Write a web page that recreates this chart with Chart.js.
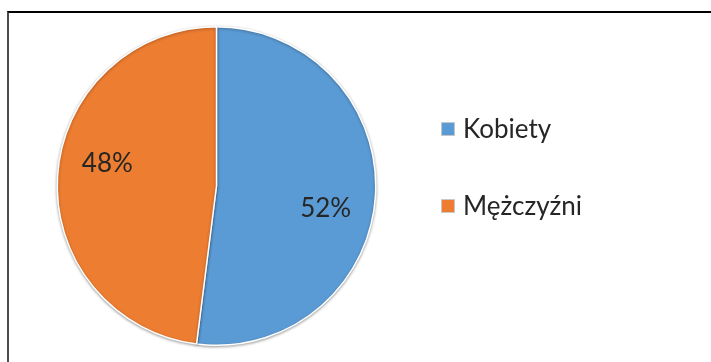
<!DOCTYPE html>
<html>
<head>
<meta charset="utf-8">
<script src="https://cdn.jsdelivr.net/npm/chart.js@4"></script>
<style>
  html, body { margin: 0; padding: 0; background: #fff; }
  body { width: 711px; height: 362px; position: relative; overflow: hidden; }
  #frame {
    position: absolute; left: 7px; top: 11px; width: 720px; height: 400px;
    border-top: 2px solid #000; border-left: 2px solid #4d4d4d;
  }
  #wrap { position: absolute; left: 0; top: 0; width: 711px; height: 362px; }
</style>
</head>
<body>
<div id="frame"></div>
<div id="wrap"><canvas id="chart"></canvas></div>
<script>
const labels = ['Kobiety', 'Mężczyźni']
const values = [52, 48]
const colors = ['#5B9BD5', '#ED7D31']

const FONT = 'Lato, "Open Sans", sans-serif'

// procenty na wycinkach, lekko przesunięte względem środka kąta
const sliceLabels = {
    id: 'sliceLabels',
    afterDatasetsDraw (chart) {
        const { ctx } = chart
        const meta = chart.getDatasetMeta(0)
        const total = values.reduce((a, b) => a + b, 0)
        ctx.save()
        ctx.font = '26px ' + FONT
        ctx.fillStyle = '#262626'
        ctx.textAlign = 'center'
        ctx.textBaseline = 'middle'
        meta.data.forEach((arc, i) => {
            const { x, y, startAngle, endAngle, outerRadius } = arc.getProps(['x', 'y', 'startAngle', 'endAngle', 'outerRadius'])
            const mid = (startAngle + endAngle) / 2 + 0.14
            const r = outerRadius * 0.7
            const pct = Math.round(values[i] / total * 100) + '%'
            ctx.fillText(pct, x + Math.cos(mid) * r, y + Math.sin(mid) * r)
        })
        ctx.restore()
    }
}

// legenda po prawej stronie
const sideLegend = {
    id: 'sideLegend',
    afterDraw (chart) {
        const { ctx } = chart
        const x0 = 441, y0 = 129, step = 77, box = 14
        ctx.save()
        ctx.font = '26px ' + FONT
        ctx.textBaseline = 'middle'
        labels.forEach((name, i) => {
            const y = y0 + i * step
            ctx.fillStyle = colors[i]
            ctx.fillRect(x0, y - box / 2, box, box)
            ctx.strokeStyle = '#c8c8c8'
            ctx.lineWidth = 1
            ctx.strokeRect(x0 + 0.5, y - box / 2 + 0.5, box - 1, box - 1)
            ctx.fillStyle = '#262626'
            ctx.fillText(name, x0 + 22, y + 1)
        })
        ctx.restore()
    }
}

// delikatny cień pod kołem
const pieShadow = {
    id: 'pieShadow',
    beforeDatasetsDraw (chart) {
        const { ctx } = chart
        ctx.save()
        ctx.shadowColor = 'rgba(0,0,0,0.35)'
        ctx.shadowBlur = 3
        ctx.shadowOffsetY = 1
    },
    afterDatasetsDraw (chart) {
        chart.ctx.restore()
    }
}

new Chart(document.getElementById('chart'), {
    type: 'pie',
    data: {
        labels: labels,
        datasets: [{
            data: values,
            backgroundColor: colors,
            borderColor: '#ffffff',
            borderWidth: 1.5
        }]
    },
    options: {
        responsive: true,
        maintainAspectRatio: false,
        animation: false,
        layout: {
            padding: { top: 26, bottom: 16, left: 56, right: 334 }
        },
        plugins: {
            legend: { display: false },
            tooltip: { enabled: false }
        }
    },
    plugins: [pieShadow, sliceLabels, sideLegend]
})
</script>
</body>
</html>
